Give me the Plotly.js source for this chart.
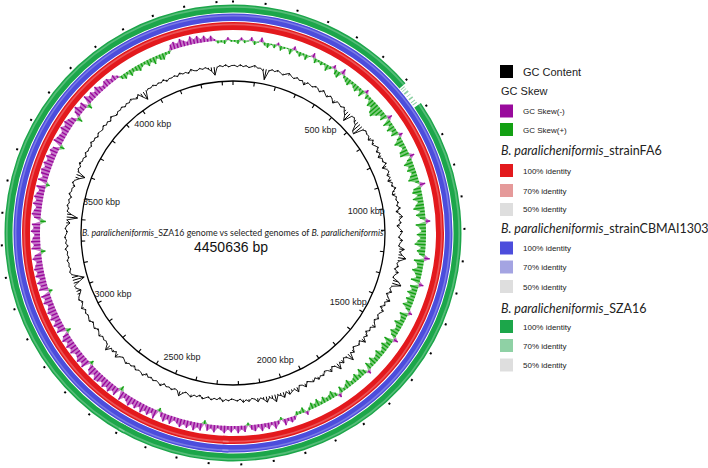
<!DOCTYPE html>
<html><head><meta charset="utf-8">
<script src="https://cdn.plot.ly/plotly-3.0.1.min.js"></script>
<style>html,body{margin:0;padding:0;background:#fff}#chart{width:708px;height:468px}</style>
</head><body><div id="chart"></div>
<script>
const genomeLength = 4450636; // bp
const windowCount = 360;

// GC content (%) per window, clockwise from 0 bp
const gcContent = [
46.3,45.8,46.6,45.9,46.4,45.7,46.2,46.8,45.9,46.1,
45.2,42.0,45.6,46.4,45.9,46.7,46.0,45.5,46.3,46.9,
46.1,45.6,46.5,45.8,46.2,44.9,46.4,46.0,45.7,46.6,
46.2,45.4,46.8,46.0,45.3,46.5,45.9,44.8,46.3,46.1,
45.6,46.4,45.1,44.2,42.5,45.8,46.2,45.0,44.6,42.3,
41.8,45.4,46.3,45.7,46.0,44.9,46.5,45.2,45.9,46.7,
45.1,46.2,44.7,46.0,45.5,46.6,44.4,45.8,46.3,45.0,
45.9,44.6,46.1,45.4,46.8,45.3,44.8,46.2,45.7,46.5,
45.6,46.9,45.0,46.4,47.3,45.8,46.6,44.9,46.0,47.0,
46.3,45.5,47.1,46.2,45.7,48.0,46.4,47.4,49.0,46.8,
45.9,46.7,45.4,47.2,46.1,45.6,48.2,49.5,46.3,45.8,
46.9,45.2,46.4,47.6,45.9,46.6,45.1,47.0,46.2,45.7,
46.8,45.5,46.3,47.4,45.8,46.5,45.3,46.9,46.0,47.8,
45.6,46.7,46.1,45.4,47.2,46.3,49.0,46.8,45.9,47.5,
46.2,48.6,46.5,45.7,47.3,46.0,45.5,46.8,46.2,47.1,
45.8,46.9,46.3,45.6,47.4,46.1,45.7,47.9,46.4,46.8,
47.6,46.2,48.1,47.0,46.5,48.8,47.3,46.6,48.2,46.9,
46.1,47.4,46.3,45.8,46.9,46.2,47.1,45.7,46.5,46.0,
45.6,46.4,45.9,46.8,45.3,46.2,45.8,46.6,45.5,46.1,
46.7,45.4,46.3,45.9,47.0,46.2,45.6,46.5,47.8,46.0,
45.7,46.6,45.9,46.3,45.5,46.9,46.1,45.8,46.4,45.6,
46.2,45.3,46.7,46.0,45.8,46.5,45.4,46.3,45.9,46.8,
46.1,45.6,46.4,47.6,45.8,46.9,46.2,48.3,46.5,45.9,
46.3,45.7,46.8,46.0,45.4,46.6,46.1,45.5,46.7,46.2,
45.8,46.4,45.6,46.9,46.0,45.3,46.5,45.9,45.0,44.2,
45.6,46.1,43.9,41.5,43.6,45.8,46.4,45.7,46.2,45.9,
46.5,45.6,46.1,45.8,46.7,45.4,46.3,45.9,46.6,46.0,
45.5,46.4,45.8,44.6,45.9,41.9,44.3,46.2,45.7,46.5,
45.8,46.3,45.4,46.7,45.9,46.1,45.2,46.6,45.8,44.4,
42.6,45.5,46.3,45.7,46.8,45.9,46.2,45.4,46.5,45.8,
46.1,45.6,46.7,45.9,46.3,45.5,46.4,46.0,45.7,46.6,
45.8,46.3,45.5,46.7,46.0,45.4,46.2,45.9,46.5,45.6,
46.3,45.8,46.6,45.9,45.2,46.4,44.5,42.8,45.6,46.2,
45.9,46.5,45.7,46.3,45.8,46.6,45.4,46.1,45.9,46.4,
45.6,46.7,45.9,46.2,45.5,46.8,46.0,45.7,46.4,45.8,
46.3,45.5,44.6,42.9,45.8,46.4,45.9,46.6,45.7,46.2
];

// GC skew per window
const gcSkew = [
0.02,0.04,-0.03,0.03,0.01,-0.04,0.04,0.01,-0.05,0.03,
0.05,0.01,0.04,-0.03,0.05,0.02,0.01,0.06,-0.04,0.02,
0.05,0.02,0.06,0.01,-0.05,0.05,0.02,0.04,0.02,0.07,
0.03,-0.04,0.05,0.07,-0.06,0.03,0.05,0.07,0.03,0.05,
0.07,0.03,0.08,-0.04,0.05,0.03,0.09,0.07,0.12,0.14,
0.09,0.05,0.08,-0.05,0.09,0.04,0.09,0.05,0.08,-0.04,
0.05,0.10,0.06,0.04,0.09,0.10,-0.05,0.05,0.10,0.06,
0.09,0.05,0.08,0.11,0.04,-0.06,0.08,0.10,0.05,0.11,
0.06,0.09,0.12,0.05,0.10,0.06,-0.05,0.11,0.07,0.05,
0.10,0.06,0.09,0.12,0.05,0.09,0.06,-0.06,0.11,0.07,
0.06,0.11,0.07,0.05,0.10,-0.05,0.09,0.06,0.10,0.05,
0.09,0.06,0.10,0.05,-0.04,0.09,0.06,0.05,0.10,0.06,
0.05,0.09,0.06,-0.05,0.10,0.05,0.09,0.06,0.04,0.09,
0.06,0.05,0.09,0.04,0.08,-0.04,0.05,0.09,0.04,0.08,
0.05,0.04,0.08,0.05,0.03,0.07,-0.04,0.04,0.08,0.05,
0.04,0.07,0.03,0.08,0.04,0.07,0.03,-0.04,0.06,0.03,
0.04,-0.04,-0.06,-0.03,-0.07,0.03,-0.04,-0.08,-0.03,-0.07,
-0.04,-0.08,-0.03,-0.07,-0.05,0.03,-0.07,-0.04,-0.08,-0.03,
-0.07,-0.04,-0.08,-0.05,-0.03,-0.08,-0.04,-0.07,0.04,-0.08,
-0.05,-0.09,-0.04,-0.08,-0.05,-0.09,-0.06,-0.04,-0.09,-0.05,
-0.09,-0.05,0.04,-0.10,-0.05,-0.09,-0.06,-0.10,-0.05,-0.09,
-0.06,-0.10,-0.07,-0.05,-0.10,0.05,-0.09,-0.06,-0.10,-0.07,
-0.10,-0.06,-0.09,-0.10,-0.06,-0.10,-0.07,0.04,-0.10,-0.07,
-0.10,-0.07,-0.06,-0.10,-0.07,-0.10,-0.06,-0.10,-0.07,0.05,
-0.10,-0.07,-0.10,-0.06,-0.10,-0.07,-0.10,-0.08,-0.06,-0.10,
-0.07,-0.10,0.04,-0.10,-0.07,-0.10,-0.06,-0.10,-0.07,-0.10,
-0.08,-0.06,-0.10,-0.07,0.05,-0.10,-0.07,-0.10,-0.08,-0.06,
-0.10,-0.07,-0.09,0.06,-0.07,-0.10,-0.08,-0.06,-0.10,-0.07,
-0.10,-0.08,-0.06,-0.10,0.04,-0.10,-0.06,-0.09,-0.10,-0.07,
-0.10,-0.07,-0.10,-0.06,-0.09,-0.07,0.05,-0.10,-0.08,-0.07,
-0.06,-0.10,-0.07,-0.10,-0.08,-0.06,0.06,-0.07,-0.10,-0.06,
-0.08,0.05,-0.10,-0.06,-0.08,-0.05,-0.09,-0.06,-0.04,-0.07,
-0.07,-0.04,-0.06,-0.03,0.04,0.06,0.03,0.07,0.04,0.05,
0.07,0.04,0.03,0.07,0.04,0.08,0.03,0.06,0.07,0.03,
0.03,-0.06,-0.08,-0.05,-0.09,-0.06,-0.04,-0.09,-0.05,-0.08,
-0.04,-0.07,-0.03,-0.06,-0.02,0.03,0.02,0.04,-0.03,0.02
];

// Genome scale labels (kbp)
const tickKbp = [500,1000,1500,2000,2500,3000,3500,4000];
const tickLabels = ['500 kbp','1000 kbp','1500 kbp','2000 kbp','2500 kbp','3000 kbp','3500 kbp','4000 kbp'];
const minorStepKbp = 100;

// BLAST hit regions (kbp) at 100% identity, and partial (70%) hits
const fa6Hits = [[0,2260],[2240,4450.636]];
const cbmaiHits = [[0,2260],[2240,4450.636]];
const sza16Hits = [[0,606],[684,2600],[2580,4450.636]];
const sza16PartialHits = [[611,614],[619,621],[627,633],[641,643],[651,656],[664,667],[673,676]];

const centerTitle = '<i>B. paralicheniformis</i>_SZA16 genome vs selected genomes of <i>B. paralicheniformis</i>';
const centerLength = '4450636 bp';

const legendHeaders = ['GC Skew','<i>B. paralicheniformis</i>_strainFA6','<i>B. paralicheniformis</i>_strainCBMAI1303','<i>B. paralicheniformis</i>_SZA16'];
const legendItems = ['GC Content','GC Skew(-)','GC Skew(+)','100% identity','70% identity','50% identity','100% identity','70% identity','50% identity','100% identity','70% identity','50% identity'];

// ---------- styling ----------
const C = {
  mag:'#990a9c', skewG:'#13a013',
  red:'#e3191d', redL:'#e59a9a',
  blue:'#4c4ddc', blueL:'#a4a4e2',
  green:'#1ca64a', greenL:'#8fd1a5',
  gray:'#dedede'
};
const totalKbp = genomeLength/1000;
const toDeg = kbp => kbp/totalKbp*360;
const wKbp = totalKbp/windowCount;

const R = {backbone:152, gcBase:167, gcScale:2.6, skewBase:193, skewScale:92,
  red:[203,211], blue:[212,219.5], green:[220.5,228.5], label:135};

const traces = [];

// rings
function ringTraces(hits, rr, color){
  const th = hits.map(h=>toDeg((h[0]+h[1])/2));
  const w = hits.map(h=>toDeg(h[1]-h[0]));
  const t = rr[1]-rr[0];
  traces.push({type:'barpolar', theta:th, width:w, base:hits.map(()=>rr[0]), r:hits.map(()=>t),
    marker:{color:color, line:{width:0}}, hoverinfo:'skip', showlegend:false});
  traces.push({type:'barpolar', theta:th, width:w, base:hits.map(()=>rr[0]+t*0.6), r:hits.map(()=>t*0.22),
    marker:{color:'rgba(255,255,255,0.25)', line:{width:0}}, hoverinfo:'skip', showlegend:false});
}
ringTraces(fa6Hits, R.red, C.red);
ringTraces(cbmaiHits, R.blue, C.blue);
ringTraces(sza16Hits, R.green, C.green);
traces.push({type:'barpolar', theta:sza16PartialHits.map(h=>toDeg((h[0]+h[1])/2)),
  width:sza16PartialHits.map(h=>toDeg(h[1]-h[0])),
  base:sza16PartialHits.map(()=>R.green[0]), r:sza16PartialHits.map(()=>5),
  marker:{color:C.greenL, line:{width:0}}, hoverinfo:'skip', showlegend:false});

// GC skew: translucent area + radial spikes (negative outward, positive inward)
const winT = gcSkew.map((v,i)=>toDeg((i+0.5)*wKbp));
function skewArea(sel, color, fillc){
  const r=[], t=[];
  gcSkew.forEach((v,i)=>{ r.push(R.skewBase - sel(v)*R.skewScale); t.push(winT[i]); });
  r.push(R.skewBase - sel(gcSkew[0])*R.skewScale); t.push(winT[0]+360);
  for(let i=windowCount;i>=0;i--){ r.push(R.skewBase); t.push(i===windowCount? winT[0]+360 : winT[i]); }
  traces.push({type:'scatterpolar', mode:'lines', r, theta:t, fill:'toself', fillcolor:fillc,
    line:{color:fillc, width:0}, hoverinfo:'skip', showlegend:false});
  const sr=[], st=[];
  gcSkew.forEach((v,i)=>{ if(sel(v)!==0){ sr.push(R.skewBase, R.skewBase - v*R.skewScale, null); st.push(winT[i],winT[i],null);} });
  traces.push({type:'scatterpolar', mode:'lines', r:sr, theta:st, connectgaps:false,
    line:{color:color, width:1.4}, hoverinfo:'skip', showlegend:false});
}
skewArea(v=>Math.min(v,0), C.mag, 'rgba(153,10,156,0.55)');
skewArea(v=>Math.max(v,0), C.skewG, 'rgba(19,160,19,0.55)');

// GC content: spikes from the mean plus outline
const gcMean = gcContent.reduce((a,b)=>a+b,0)/gcContent.length;
const gcR = gcContent.map(v=>R.gcBase+(v-gcMean)*R.gcScale);
const gcT = gcContent.map((v,i)=>toDeg((i+0.5)*wKbp));
const gsr=[], gst=[];
gcR.forEach((r,i)=>{ gsr.push(R.gcBase, r, null); gst.push(gcT[i], gcT[i], null); });
traces.push({type:'scatterpolar', mode:'lines', r:gsr, theta:gst, connectgaps:false,
  line:{color:'#000', width:1}, hoverinfo:'skip', showlegend:false});
gcR.push(gcR[0]); gcT.push(gcT[0]+360);
traces.push({type:'scatterpolar', mode:'lines', r:gcR, theta:gcT,
  line:{color:'#000', width:0.9}, hoverinfo:'skip', showlegend:false});

// backbone minor ticks
const tr=[], tt=[];
for(let k=0;k<totalKbp;k+=minorStepKbp){ tr.push(R.backbone-4,R.backbone,null); tt.push(toDeg(k),toDeg(k),null); }
traces.push({type:'scatterpolar', mode:'lines', r:tr, theta:tt, line:{color:'#000', width:1.1}, hoverinfo:'skip', showlegend:false, connectgaps:false});

// scale labels
traces.push({type:'scatterpolar', mode:'text', r:tickKbp.map(()=>R.label), theta:tickKbp.map(toDeg),
  text:tickLabels, textfont:{family:'Liberation Sans, Arial', size:9, color:'#222'}, hoverinfo:'skip', showlegend:false});

// outer tick dots via angular axis
const outerTicks=[]; for(let k=0;k<totalKbp;k+=minorStepKbp) outerTicks.push(toDeg(k));

// ---------- legend (annotations + swatches) ----------
const W=708,H=468;
const px = x=>x/W, py = y=>1-y/H;
const shapes=[], annotations=[];
const swatchColors = ['#000',C.mag,C.skewG,C.red,C.redL,C.gray,C.blue,C.blueL,C.gray,C.green,C.greenL,C.gray];
const swatchY = [71.5,111,129.5,170.5,190.5,209.5,248,267,286.5,326.5,345.5,365];
const headerY = [91,151,228.5,308.5];
swatchColors.forEach((c,i)=>{
  const y=swatchY[i];
  shapes.push({type:'rect', xref:'paper', yref:'paper', x0:px(500), x1:px(513), y0:py(y-6.5), y1:py(y+6.5), fillcolor:c, line:{width:0}});
  annotations.push({xref:'paper', yref:'paper', x:px(521), y:py(y+0.5), xanchor:'left', yanchor:'middle', showarrow:false,
    text:legendItems[i], font:{family:'Liberation Sans, Arial', size: i===0?11:8, color:'#222'}});
});
legendHeaders.forEach((t,i)=>{
  annotations.push({xref:'paper', yref:'paper', x:px(499), y:py(headerY[i]), xanchor:'left', yanchor:'middle', showarrow:false,
    text:t, font: i===0 ? {family:'Liberation Sans, Arial', size:11, color:'#222'} : {family:'Lato', size:12.5, color:'#222'}});
});
annotations.push({xref:'paper', yref:'paper', x:px(233), y:py(232), xanchor:'center', yanchor:'middle', showarrow:false,
  text:centerTitle, font:{family:'Lato', size:8.8, color:'#222'}});
annotations.push({xref:'paper', yref:'paper', x:px(231), y:py(247), xanchor:'center', yanchor:'middle', showarrow:false,
  text:centerLength, font:{family:'Liberation Sans, Arial', size:14, color:'#111'}});

const layout = {
  width:W, height:H, margin:{l:0,r:0,t:0,b:0}, paper_bgcolor:'#fff', showlegend:false,
  polar:{
    domain:{x:[0,466/W], y:[2/H,1]},
    bgcolor:'rgba(0,0,0,0)', hole:0, barmode:'overlay',
    radialaxis:{range:[0,233], visible:true, showline:false, showticklabels:false, ticks:'',
      tickmode:'array', tickvals:[R.backbone], showgrid:true, gridcolor:'#000', gridwidth:1.3},
    angularaxis:{type:'linear', thetaunit:'degrees', rotation:90, direction:'clockwise',
      showgrid:false, showline:false, showticklabels:false, ticks:'inside', ticklen:2, tickwidth:2, tickcolor:'#000',
      tickmode:'array', tickvals:outerTicks}
  },
  shapes, annotations
};
Plotly.newPlot('chart', traces, layout, {displayModeBar:false, staticPlot:true});
</script>
</body></html>
